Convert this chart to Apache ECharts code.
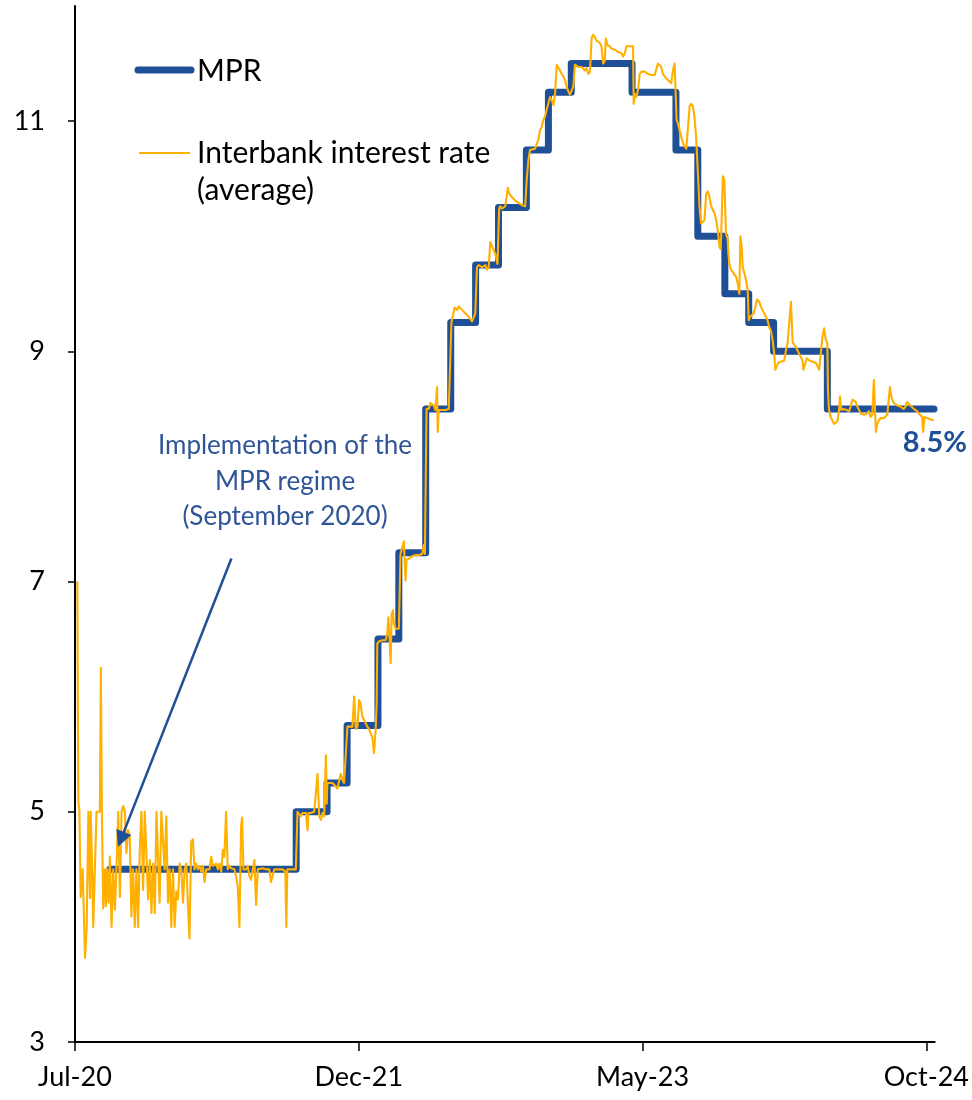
<!DOCTYPE html>
<html><head><meta charset="utf-8">
<script src="https://cdn.jsdelivr.net/npm/echarts@6/dist/echarts.min.js"></script>
<style>html,body{margin:0;padding:0;background:#fff}#chart{width:972px;height:1100px}</style>
</head><body><div id="chart"></div>
<script>
// x values are months elapsed since 1 Jul 2020
const xTickValues = [0, 17, 34, 51];
const xTickLabels = ['Jul-20', 'Dec-21', 'May-23', 'Oct-24'];
const yTickValues = [3, 5, 7, 9, 11];

const mprDates  = [2.09, 13.25, 15.10, 16.30, 18.15, 19.40, 21.01, 22.51, 24.0, 25.37, 27.04, 28.36, 29.73, 33.37, 36.0, 37.31, 38.93, 40.36, 41.85, 45.07, 51.46];
const mprValues = [4.5, 5.0, 5.25, 5.75, 6.5, 7.25, 8.5, 9.25, 9.75, 10.25, 10.75, 11.25, 11.5, 11.25, 10.75, 10.0, 9.5, 9.25, 9.0, 8.5, 8.5];

const interbank = [
[0.14,7.0],[0.20,5.08],[0.26,5.02],[0.34,4.26],[0.40,4.26],[0.46,4.5],[0.60,3.73],[0.70,4.0],[0.80,5.0],[0.90,4.25],[0.94,5.0],[1.03,4.5],[1.09,4.0],[1.19,4.0],[1.29,5.0],[1.39,5.0],[1.49,5.0],[1.55,6.25],[1.61,5.0],[1.69,4.16],[1.79,4.5],[1.85,4.18],[1.93,4.5],[2.01,4.21],[2.09,4.61],[2.19,4.0],[2.29,4.5],[2.39,4.15],[2.49,4.55],[2.59,5.0],[2.69,4.26],[2.79,5.0],[2.89,5.05],[2.99,5.0],[3.08,4.64],[3.18,4.84],[3.28,4.79],[3.38,4.09],[3.48,4.5],[3.58,4.0],[3.68,4.5],[3.78,4.0],[3.88,4.67],[3.98,5.0],[4.08,4.32],[4.18,5.0],[4.28,5.0],[4.38,4.24],[4.48,4.58],[4.58,4.12],[4.68,4.55],[4.78,4.12],[4.88,5.0],[4.98,5.0],[5.07,4.21],[5.17,5.0],[5.27,5.0],[5.37,4.5],[5.47,4.96],[5.57,4.21],[5.67,4.5],[5.77,4.0],[5.87,4.5],[5.97,4.0],[6.07,4.31],[6.17,4.24],[6.27,4.55],[6.37,4.5],[6.47,4.21],[6.57,4.5],[6.67,4.55],[6.77,4.18],[6.86,3.9],[6.96,4.74],[7.06,4.76],[7.16,4.5],[7.26,4.55],[7.36,4.5],[7.46,4.53],[7.56,4.48],[7.66,4.53],[7.76,4.39],[7.86,4.5],[7.96,4.51],[8.06,4.5],[8.16,4.61],[8.26,4.53],[8.36,4.53],[8.46,4.55],[8.56,4.5],[8.66,4.55],[8.76,4.48],[8.86,4.67],[8.95,4.61],[9.05,5.0],[9.15,4.5],[9.25,4.53],[9.35,4.51],[9.45,4.5],[9.55,4.5],[9.65,4.44],[9.75,4.35],[9.85,4.0],[9.95,4.87],[10.01,4.95],[10.09,4.5],[10.25,4.5],[10.35,4.53],[10.45,4.44],[10.55,4.41],[10.65,4.5],[10.75,4.58],[10.85,4.19],[10.95,4.5],[11.04,4.5],[11.24,4.51],[11.44,4.5],[11.64,4.5],[11.74,4.39],[11.84,4.38],[11.94,4.5],[12.04,4.5],[12.24,4.5],[12.44,4.5],[12.60,4.48],[12.66,4.0],[12.72,4.5],[13.03,4.5],[13.23,4.5],[13.33,5.0],
[13.43,5.0],[13.53,4.96],[13.63,4.99],[13.83,4.99],[13.93,4.84],[13.99,4.99],[14.13,4.99],[14.33,5.0],[14.43,5.01],[14.53,5.33],[14.63,4.96],[14.73,4.93],[14.83,4.99],[14.93,4.96],[15.03,5.49],[15.08,5.07],[15.12,5.25],[15.22,5.25],[15.42,5.25],[15.62,5.22],[15.72,5.2],[15.82,5.2],[15.92,5.33],[16.02,5.28],[16.12,5.25],[16.22,5.25],[16.32,5.74],[16.42,5.74],[16.62,5.74],[16.72,6.0],[16.82,5.72],[16.92,5.74],[17.02,5.97],[17.11,5.94],[17.21,5.83],[17.31,5.8],[17.41,5.77],[17.51,5.74],[17.61,5.72],[17.71,5.68],[17.81,5.65],[17.91,5.51],[18.01,5.71],[18.07,5.94],[18.11,6.46],[18.21,6.48],[18.41,6.49],[18.61,6.49],[18.71,6.55],[18.77,6.69],[18.85,6.49],[18.91,6.29],[18.97,6.72],[19.05,6.75],[19.10,6.64],[19.20,6.59],[19.40,6.59],[19.50,7.24],[19.60,7.24],[19.70,7.35],[19.80,7.01],[19.86,7.19],[20.00,7.2],[20.20,7.22],[20.40,7.23],[20.60,7.23],[20.80,7.24],[20.90,7.32],[20.96,7.24],[21.06,8.5],[21.19,8.5],[21.29,8.55],[21.39,8.56],[21.49,8.53],[21.59,8.49],[21.69,8.69],[21.73,8.3],[21.79,8.49],[21.99,8.49],[22.19,8.49],[22.39,8.5],[22.55,9.25],[22.75,9.38],[22.9,9.36],
[22.99,9.39],[23.18,9.36],[23.38,9.33],[23.58,9.3],[23.78,9.26],[23.88,9.29],[23.98,9.33],[24.08,9.73],[24.18,9.75],[24.38,9.73],[24.58,9.75],[24.68,9.71],[24.78,9.73],[24.88,9.95],[24.98,9.95],[25.17,9.85],[25.31,9.76],[25.41,10.24],[25.47,10.26],[25.57,10.24],[25.77,10.26],[25.93,10.42],[26.01,10.37],[26.17,10.34],[26.37,10.31],[26.57,10.29],[26.77,10.27],[26.97,10.26],[27.06,10.49],[27.16,10.66],[27.26,10.75],[27.36,10.76],[27.56,10.76],[27.76,10.84],[27.86,10.92],[27.96,10.95],[28.06,11.01],[28.16,11.04],[28.26,11.1],[28.46,11.21],[28.56,11.18],[28.66,11.14],[28.76,11.24],[28.86,11.49],[28.96,11.5],[29.06,11.44],[29.15,11.41],[29.25,11.39],[29.35,11.36],[29.45,11.3],[29.55,11.26],[29.65,11.23],[29.75,11.24],[29.85,11.3],[29.95,11.49],[30.15,11.47],[30.35,11.47],[30.55,11.44],[30.65,11.46],[30.75,11.41],[30.85,11.43],[30.95,11.72],[31.04,11.75],[31.14,11.73],[31.24,11.7],[31.34,11.69],[31.44,11.68],[31.54,11.65],[31.64,11.5],[31.74,11.52],[31.80,11.72],[31.90,11.66],[32.04,11.65],[32.14,11.63],[32.34,11.62],[32.54,11.6],[32.74,11.59],[32.84,11.56],[32.94,11.59],[33.03,11.65],[33.13,11.66],[33.23,11.65],[33.33,11.66],[33.43,11.65],[33.47,11.15],[33.53,11.24],[33.63,11.21],[33.73,11.27],[33.83,11.41],[33.93,11.43],[34.13,11.43],[34.33,11.41],[34.53,11.4],[34.73,11.4],[34.83,11.41],[34.92,11.5],[35.02,11.49],[35.12,11.47],[35.22,11.41],[35.32,11.4],[35.42,11.37],[35.52,11.36],[35.72,11.33],[35.82,11.44],[35.92,11.5],[35.98,11.49],[36.04,11.01],[36.12,10.98],[36.22,10.92],[36.32,10.86],[36.42,10.81],[36.52,10.78],[36.62,10.76],[36.72,10.75],[36.82,11.13],[36.92,11.15],[37.01,11.13],[37.11,11.04],[37.21,10.86],[37.31,10.57],[37.41,10.26],[37.51,10.11],[37.61,10.11],[37.71,10.14],[37.81,10.37],[37.91,10.39],[38.01,10.34],[38.11,10.26],[38.21,10.23],[38.31,10.2],[38.41,10.14],[38.51,10.05],
[38.61,9.91],[38.67,9.89],[38.71,10.0],[38.81,10.52],[38.90,10.49],[39.00,10.02],[39.10,9.98],[39.14,9.85],[39.20,9.76],[39.30,9.71],[39.40,9.69],[39.50,9.68],[39.60,9.65],[39.70,9.59],[39.80,9.5],[39.86,10.0],[39.94,9.91],[40.00,9.73],[40.10,9.68],[40.20,9.62],[40.30,9.53],[40.36,9.27],[40.46,9.3],[40.54,9.3],[40.66,9.33],[40.74,9.33],[40.86,9.45],[40.99,9.43],[41.09,9.39],[41.19,9.36],[41.29,9.33],[41.39,9.3],[41.49,9.27],[41.59,9.21],[41.69,9.18],[41.79,9.1],[41.89,8.98],[41.95,8.84],[42.03,8.87],[42.13,8.9],[42.29,8.91],[42.49,8.92],[42.59,9.01],[42.69,9.07],[42.79,9.08],[42.89,9.43],[42.99,9.08],[43.08,9.07],[43.18,9.04],[43.28,9.01],[43.38,8.98],[43.48,8.95],[43.58,8.92],[43.64,8.84],[43.72,8.85],[43.84,8.94],[43.98,8.92],[44.08,8.92],[44.18,8.91],[44.28,8.92],[44.38,8.9],[44.48,8.87],[44.58,8.84],[44.68,8.85],[44.78,9.13],[44.88,9.2],[44.97,9.1],[45.07,9.07],[45.11,8.66],
[45.17,8.49],[45.27,8.43],[45.37,8.42],[45.47,8.37],[45.57,8.36],[45.67,8.39],[45.77,8.49],[45.83,8.61],[45.91,8.49],[46.03,8.5],[46.13,8.49],[46.23,8.49],[46.37,8.48],[46.47,8.52],[46.57,8.58],[46.67,8.59],[46.77,8.56],[46.87,8.52],[46.97,8.49],[47.07,8.46],[47.16,8.45],[47.26,8.45],[47.36,8.45],[47.46,8.46],[47.56,8.48],[47.66,8.43],[47.76,8.45],[47.86,8.75],[47.92,8.52],[47.98,8.3],[48.06,8.37],[48.16,8.4],[48.26,8.42],[48.46,8.42],[48.66,8.45],[48.76,8.46],[48.82,8.69],[48.90,8.61],[48.96,8.58],[49.06,8.55],[49.25,8.53],[49.45,8.52],[49.65,8.5],[49.75,8.52],[49.85,8.56],[49.95,8.55],[50.05,8.53],[50.15,8.52],[50.25,8.5],[50.35,8.49],[50.45,8.48],[50.55,8.46],[50.65,8.45],[50.75,8.43],[50.81,8.3],[50.89,8.43],[51.05,8.42],[51.24,8.41],[51.44,8.4]
];

const BLUE = '#1F4F96';
const GOLD = '#FFB000';
const FONT = 'Lato';

const chart = echarts.init(document.getElementById('chart'), null, {renderer: 'canvas'});
const mprData = mprDates.map((d, i) => [d, mprValues[i]]);

chart.setOption({
  animation: false,
  backgroundColor: '#fff',
  grid: {left: 75, right: 34.4, top: 6, bottom: 58, containLabel: false},
  xAxis: {
    type: 'value', min: 0, max: 51.5,
    axisLine: {show: true, lineStyle: {color: '#000', width: 2}},
    axisTick: {show: true, length: 9, lineStyle: {color: '#000', width: 1.5}, customValues: xTickValues},
    axisLabel: {color: '#000', fontFamily: FONT, fontSize: 27, margin: 22, customValues: xTickValues,
      formatter: v => xTickLabels[xTickValues.indexOf(v)] || ''},
    splitLine: {show: false}
  },
  yAxis: {
    type: 'value', min: 3, max: 12,
    axisLine: {show: true, lineStyle: {color: '#000', width: 2}},
    axisTick: {show: true, length: 7, lineStyle: {color: '#000', width: 1.5}, customValues: yTickValues},
    axisLabel: {color: '#000', fontFamily: FONT, fontSize: 27, margin: 30, customValues: yTickValues},
    splitLine: {show: false}
  },
  series: [
    {
      name: 'MPR', type: 'line', step: 'end', data: mprData, symbol: 'none',
      lineStyle: {color: BLUE, width: 7, join: 'round', cap: 'round'},
      z: 2,
      markLine: {
        silent: true, symbol: ['none', 'triangle'], symbolSize: 16,
        lineStyle: {color: BLUE, width: 2.5, type: 'solid'},
        label: {show: false},
        data: [[{coord: [9.37, 7.2]}, {coord: [2.75, 4.76]}]]
      }
    },
    {
      name: 'Interbank interest rate (average)', type: 'line', data: interbank, symbol: 'none',
      lineStyle: {color: GOLD, width: 2.1, join: 'round'},
      z: 3
    }
  ],
  graphic: [
    {type: 'line', shape: {x1: 138, y1: 70, x2: 191, y2: 70}, style: {stroke: BLUE, lineWidth: 7, lineCap: 'round'}},
    {type: 'text', x: 197, y: 71, style: {text: 'MPR', font: '30px Lato', fill: '#000', textAlign: 'left', textVerticalAlign: 'middle'}},
    {type: 'line', shape: {x1: 139, y1: 153, x2: 190, y2: 153}, style: {stroke: GOLD, lineWidth: 2}},
    {type: 'text', x: 197, y: 153, style: {text: 'Interbank interest rate', font: '30px Lato', fill: '#000', textAlign: 'left', textVerticalAlign: 'middle'}},
    {type: 'text', x: 197, y: 190, style: {text: '(average)', font: '30px Lato', fill: '#000', textAlign: 'left', textVerticalAlign: 'middle'}},
    {type: 'text', x: 285, y: 446, style: {text: 'Implementation of the', font: '26px Lato', fill: '#2F5597', textAlign: 'center', textVerticalAlign: 'middle'}},
    {type: 'text', x: 285, y: 482, style: {text: 'MPR regime', font: '26px Lato', fill: '#2F5597', textAlign: 'center', textVerticalAlign: 'middle'}},
    {type: 'text', x: 285, y: 517, style: {text: '(September 2020)', font: '26px Lato', fill: '#2F5597', textAlign: 'center', textVerticalAlign: 'middle'}},
    {type: 'text', x: 967, y: 443, style: {text: '8.5%', font: 'bold 29px Lato', fill: BLUE, textAlign: 'right', textVerticalAlign: 'middle'}}
  ]
});
</script>
</body></html>
